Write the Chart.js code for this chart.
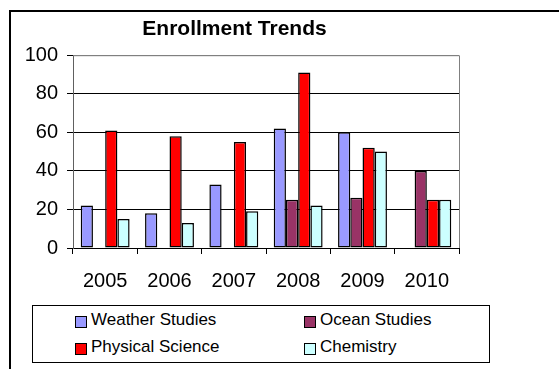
<!DOCTYPE html>
<html>
<head>
<meta charset="utf-8">
<script src="https://cdn.jsdelivr.net/npm/chart.js@4"></script>
<style>
  html, body { margin: 0; padding: 0; background: #fff; }
  body {
    width: 559px; height: 369px; position: relative; overflow: hidden;
    font-family: "Liberation Sans", Arial, sans-serif;
  }
  #frame {
    position: absolute; left: 9px; top: 10px; width: 600px; height: 400px;
    border-left: 2px solid #000; border-top: 2px solid #000;
  }
  #wrap { position: absolute; left: 0; top: 0; width: 559px; height: 369px; }
  #legend {
    position: absolute; left: 32px; top: 305px; width: 458px; height: 58px;
    border: 1px solid #000; box-sizing: border-box; background: #fff;
    display: grid; grid-template-columns: 229px 190px; grid-auto-rows: 27px;
    padding: 0 0 0 42px; font-size: 17px; color: #000;
  }
  .item { display: flex; align-items: center; white-space: nowrap; }
  .swatch {
    width: 10px; height: 10px; border: 1px solid #000; margin: 4px 4px 0 0;
  }
</style>
</head>
<body>
<div id="frame"></div>
<div id="wrap"><canvas id="chart" width="559" height="369"></canvas></div>
<div id="legend"></div>
<script>
// ==========================
// DATA
// ==========================
const years = ["2005", "2006", "2007", "2008", "2009", "2010"];
const seriesNames = ["Weather Studies", "Ocean Studies", "Physical Science", "Chemistry"];
const weatherStudies = [22, 18, 33, 62, 60, null];
const oceanStudies = [null, null, null, 25, 26, 40];
const physicalScience = [61, 58, 55, 91, 52, 25];
const chemistry = [15, 13, 19, 22, 50, 25];
const yTicks = [0, 20, 40, 60, 80, 100];
const colors = ["#9999FF", "#993366", "#FF0000", "#CCFFFF"];

const values = [weatherStudies, oceanStudies, physicalScience, chemistry];
const font = "'Liberation Sans', Arial, sans-serif";

// gray border on top / right of the plot
const plotBorder = {
  id: "plotBorder",
  afterDraw(chart) {
    const { ctx, chartArea: a } = chart;
    ctx.save();
    ctx.strokeStyle = "#808080";
    ctx.lineWidth = 1;
    ctx.beginPath();
    ctx.moveTo(a.left, a.top + 0.5);
    ctx.lineTo(Math.round(a.right) + 0.5, a.top + 0.5);
    ctx.lineTo(Math.round(a.right) + 0.5, a.bottom);
    ctx.stroke();
    ctx.restore();
  },
};

new Chart(document.getElementById("chart"), {
  type: "bar",
  data: {
    labels: years,
    datasets: seriesNames.map((name, i) => ({
      label: name,
      data: values[i],
      backgroundColor: colors[i],
      borderColor: "#000",
      borderWidth: 1.5,
      borderSkipped: false,
      categoryPercentage: 0.76,
      barPercentage: 1,
    })),
  },
  options: {
    responsive: false,
    animation: false,
    layout: { padding: { left: 10, right: 100, top: 0, bottom: 77 } },
    plugins: {
      legend: { display: false },
      tooltip: { enabled: false },
      title: {
        display: true,
        text: "Enrollment Trends",
        color: "#000",
        font: { family: font, size: 21, weight: "bold" },
        padding: { top: 17, bottom: 13 },
      },
    },
    scales: {
      x: {
        afterFit: (s) => { s.height = 44; },
        grid: {
          offset: true,
          drawOnChartArea: false,
          tickLength: 6,
          tickColor: "#000",
        },
        border: { color: "#000" },
        ticks: { color: "#000", padding: 15, font: { family: font, size: 20 } },
      },
      y: {
        min: 0,
        max: 100,
        afterFit: (s) => { s.width = 63; },
        afterBuildTicks: (s) => { s.ticks = yTicks.map((v) => ({ value: v })); },
        grid: {
          color: (c) => (c.tick && c.tick.value === 100 ? "#808080" : "#000"),
          tickLength: 6,
          tickColor: "#000",
        },
        border: { color: "#606060" },
        ticks: { color: "#000", padding: 9, font: { family: font, size: 20 } },
      },
    },
  },
  plugins: [plotBorder],
});

// ==========================
// LEGEND (two columns, like the original)
// ==========================
const legendEl = document.getElementById("legend");
[0, 1, 2, 3].forEach((i) => {
  const item = document.createElement("div");
  item.className = "item";
  item.innerHTML = `<span class="swatch" style="background:${colors[i]}"></span>${seriesNames[i]}`;
  legendEl.appendChild(item);
});
</script>
</body>
</html>
